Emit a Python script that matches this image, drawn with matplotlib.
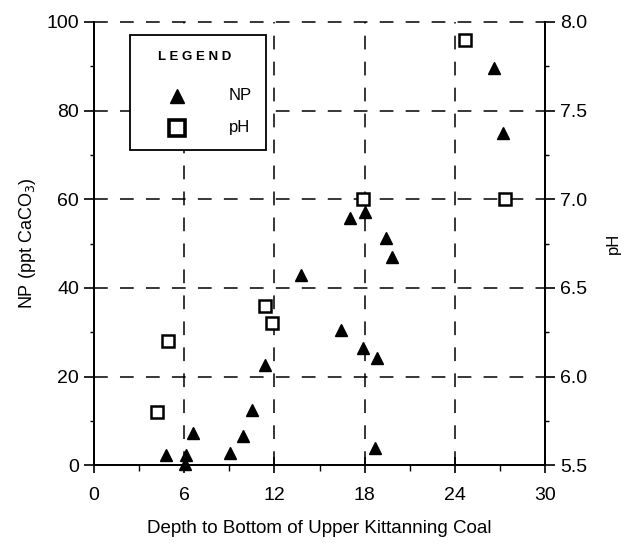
import numpy as np
import matplotlib
matplotlib.use("Agg")
import matplotlib.pyplot as plt
from matplotlib.patches import Rectangle

plt.rcParams['font.family'] = ['Liberation Sans', 'DejaVu Sans']

# NP data (left axis)
np_depth = [4.8, 6.05, 6.1, 6.6, 9.05, 9.9, 10.5, 11.4, 13.8, 16.4, 17.0, 18.0,
            17.9, 18.8, 18.7, 19.4, 19.8, 26.6, 27.2]
np_value = [2.3, 0.3, 2.3, 7.2, 2.7, 6.5, 12.4, 22.6, 42.9, 30.5, 55.8, 57.1,
            26.4, 24.1, 3.8, 51.2, 47.0, 89.6, 75.0]

# pH data (right axis)
ph_depth = [4.9, 4.2, 11.4, 11.85, 17.9, 24.7, 27.3]
ph_value = [6.2, 5.8, 6.4, 6.3, 7.0, 7.9, 7.0]

x_ticks = [0, 6, 12, 18, 24, 30]
np_ticks = [0, 20, 40, 60, 80, 100]
ph_ticks = [5.5, 6.0, 6.5, 7.0, 7.5, 8.0]

fig = plt.figure(figsize=(6.34, 5.46), dpi=100)
ax = fig.add_axes([0.148, 0.148, 0.712, 0.812])
ax2 = ax.twinx()

dash = (0, (9, 8))
for xv in x_ticks[1:-1]:
    ax.axvline(xv, color='black', lw=1.1, linestyle=dash, zorder=1)
for yv in np_ticks[1:-1]:
    ax.axhline(yv, color='black', lw=1.1, linestyle=dash, zorder=1)
ax.axhline(100, color='black', lw=1.1, linestyle=dash, zorder=1, clip_on=False)

ax.plot(np_depth, np_value, linestyle='none', marker='^', color='black', ms=8,
        zorder=3, clip_on=False)
ax2.plot(ph_depth, ph_value, linestyle='none', marker='s', mfc='white', mec='black',
         mew=1.8, ms=9, zorder=3)

ax.set_xlim(0, 30)
ax.set_ylim(0, 100)
ax2.set_ylim(5.5, 8.0)

ax.set_xticks(x_ticks)
ax.set_xticks([3, 9, 15, 21, 27], minor=True)
ax.set_yticks(np_ticks)
ax.set_yticks([10, 30, 50, 70, 90], minor=True)
ax2.set_yticks(ph_ticks)
ax2.set_yticks([5.75, 6.25, 6.75, 7.25, 7.75], minor=True)
ax2.set_yticklabels([f"{v:.1f}" for v in ph_ticks])

ax.tick_params(axis='x', which='major', direction='inout', length=12, width=1.2, labelsize=14, pad=10)
ax.tick_params(axis='x', which='minor', direction='out', length=4, width=1)
ax.tick_params(axis='y', which='major', direction='out', length=7, width=1.2, labelsize=14)
ax.tick_params(axis='y', which='minor', direction='out', length=3, width=1)
ax2.tick_params(axis='y', which='major', direction='out', length=7, width=1.2, labelsize=14)
ax2.tick_params(axis='y', which='minor', direction='out', length=3, width=1)

for a in (ax, ax2):
    a.spines['top'].set_visible(False)
    for s in ('left', 'right', 'bottom'):
        a.spines[s].set_linewidth(1.3)

ax.set_xlabel('Depth to Bottom of Upper Kittanning Coal', fontsize=13.5, labelpad=11)
ax.set_ylabel('NP (ppt CaCO$_3$)', fontsize=13, labelpad=6)
ax2.set_ylabel('pH', fontsize=12, labelpad=14)

# legend box drawn in axes coordinates
ax2.add_patch(Rectangle((0.080, 0.711), 0.301, 0.260, transform=ax2.transAxes,
                        facecolor='white', edgecolor='black', lw=1.3, zorder=5))
ax2.text(0.224, 0.921, 'L E G E N D', transform=ax2.transAxes, ha='center', va='center',
         fontsize=9.5, fontweight='bold', zorder=6)
ax2.plot([0.184], [0.833], transform=ax2.transAxes, linestyle='none', marker='^',
         color='black', ms=10, zorder=6)
ax2.plot([0.184], [0.761], transform=ax2.transAxes, linestyle='none', marker='s',
         mfc='white', mec='black', mew=2.6, ms=11, zorder=6)
ax2.text(0.299, 0.833, 'NP', transform=ax2.transAxes, ha='left', va='center',
         fontsize=12, zorder=6)
ax2.text(0.299, 0.761, 'pH', transform=ax2.transAxes, ha='left', va='center',
         fontsize=12, zorder=6)

fig.savefig('out.png', dpi=100)
